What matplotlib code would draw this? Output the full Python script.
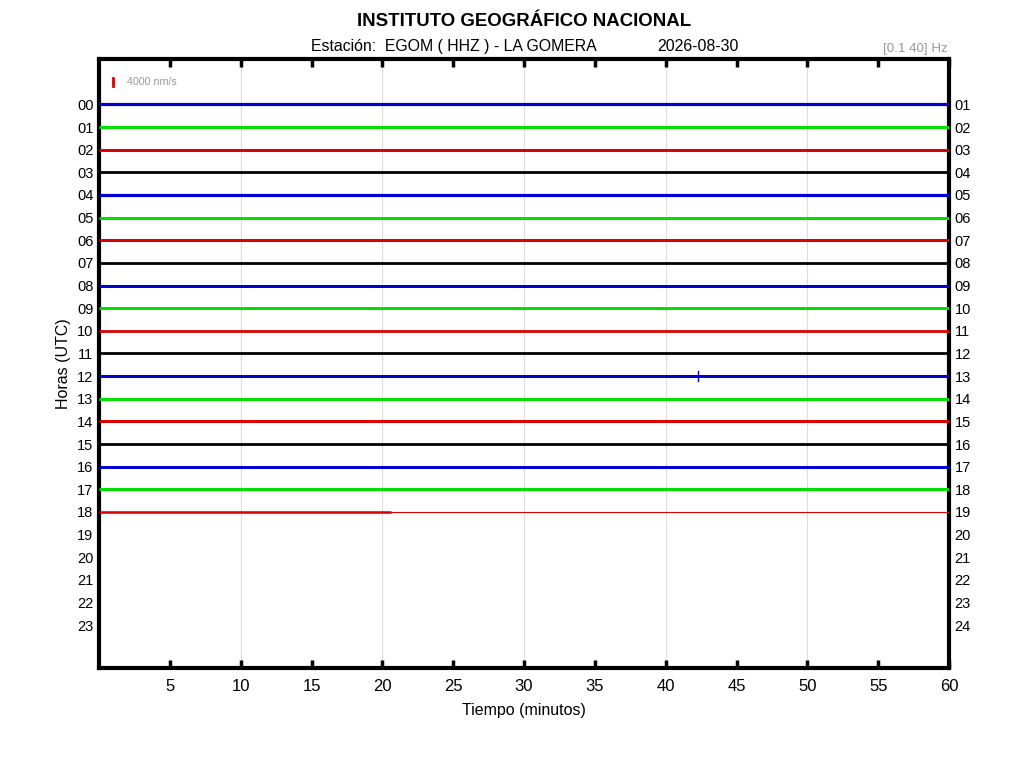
import numpy as np
import matplotlib.pyplot as plt

plt.rcParams['font.family'] = ['Liberation Sans', 'DejaVu Sans']

# hourly helicorder lines (noise envelope, nm/s)
hours = list(range(24))
left_labels = ['%02d' % h for h in hours]
right_labels = ['%02d' % (h + 1) for h in hours]
trace_hours = list(range(19))
trace_amp = [800, 750, 750, 700, 800, 750, 750, 700, 750, 750,
             700, 700, 750, 750, 750, 700, 750, 750, 650]
trace_colors = ['#0000d0', '#00e000', '#dd0000', '#000000']
last_hour_end = 20.6          # minutes recorded in the current hour
spike_hour = 12
spike_min = 42.25
spike_amp = 2500
scale_nm = 4000
nm_per_row = 11400            # vertical scale: nm/s per hour row

fig = plt.figure(figsize=(10.24, 7.68), dpi=100)
ax = fig.add_axes([0.0967, 0.130, 0.8301, 0.793])

ylim = (24.9, -2)
px_per_row = fig.get_figheight() * 0.793 * fig.dpi / (ylim[0] - ylim[1])
pt_per_row = px_per_row * 72 / fig.dpi

for i, h in enumerate(trace_hours):
    col = trace_colors[i % 4]
    a = trace_amp[i] / nm_per_row
    x_end = 60 if h != trace_hours[-1] else last_hour_end
    ax.plot([0, x_end], [h, h], color=col, lw=2 * a * pt_per_row,
            solid_capstyle='butt', zorder=3)
    if h == trace_hours[-1]:
        ax.plot([x_end, 60], [h, h], color=col, lw=0.8, zorder=3)
    if h == spike_hour:
        s = spike_amp / nm_per_row
        ax.plot([spike_min, spike_min], [h - s, h + s], color=col, lw=1.0, zorder=3)

# amplitude scale bar
sb = scale_nm / nm_per_row
ax.plot([1, 1], [-1 - sb / 2, -1 + sb / 2], color='#dd0000', lw=2, zorder=3)
ax.text(2.0, -1, '%d nm/s' % scale_nm, color='#999999', fontsize=7.7, va='center')

ax.set_xlim(0, 60)
ax.set_ylim(*ylim)
ax.set_xticks(range(5, 61, 5))
ax.set_xticklabels([str(v) for v in range(5, 61, 5)], fontsize=12)
ax.set_yticks(hours)
ax.set_yticklabels(left_labels, fontsize=10.5)
ax.tick_params(axis='x', direction='in', length=6, width=2.5, top=True,
               labeltop=False, pad=8)
ax.tick_params(axis='y', length=0, pad=4)
for v in range(10, 60, 10):
    ax.axvline(v, color='#dddddd', lw=0.8, zorder=1)
for sp in ax.spines.values():
    sp.set_linewidth(3)

ax2 = ax.twinx()
ax2.set_ylim(*ylim)
ax2.set_yticks(hours)
ax2.set_yticklabels(right_labels, fontsize=10.5)
ax2.tick_params(axis='y', length=0, pad=4)
for sp in ax2.spines.values():
    sp.set_visible(False)

ax.set_ylabel('Horas (UTC)', fontsize=11.5, labelpad=4)
ax.set_xlabel('Tiempo (minutos)', fontsize=11.5, labelpad=6)

fig.text(0.5117, 0.972, 'INSTITUTO GEOGRÁFICO NACIONAL', fontsize=13.4,
         fontweight='bold', ha='center', va='center')
fig.text(0.4434, 0.939, 'Estación:  EGOM ( HHZ ) - LA GOMERA', fontsize=11.4,
         ha='center', va='center')
fig.text(0.682, 0.939, '2026-08-30', fontsize=11.4, ha='center', va='center')
fig.text(0.926, 0.936, '[0.1 40] Hz', fontsize=9.6, color='#999999',
         ha='right', va='center')

fig.savefig('out.png', dpi=100)
